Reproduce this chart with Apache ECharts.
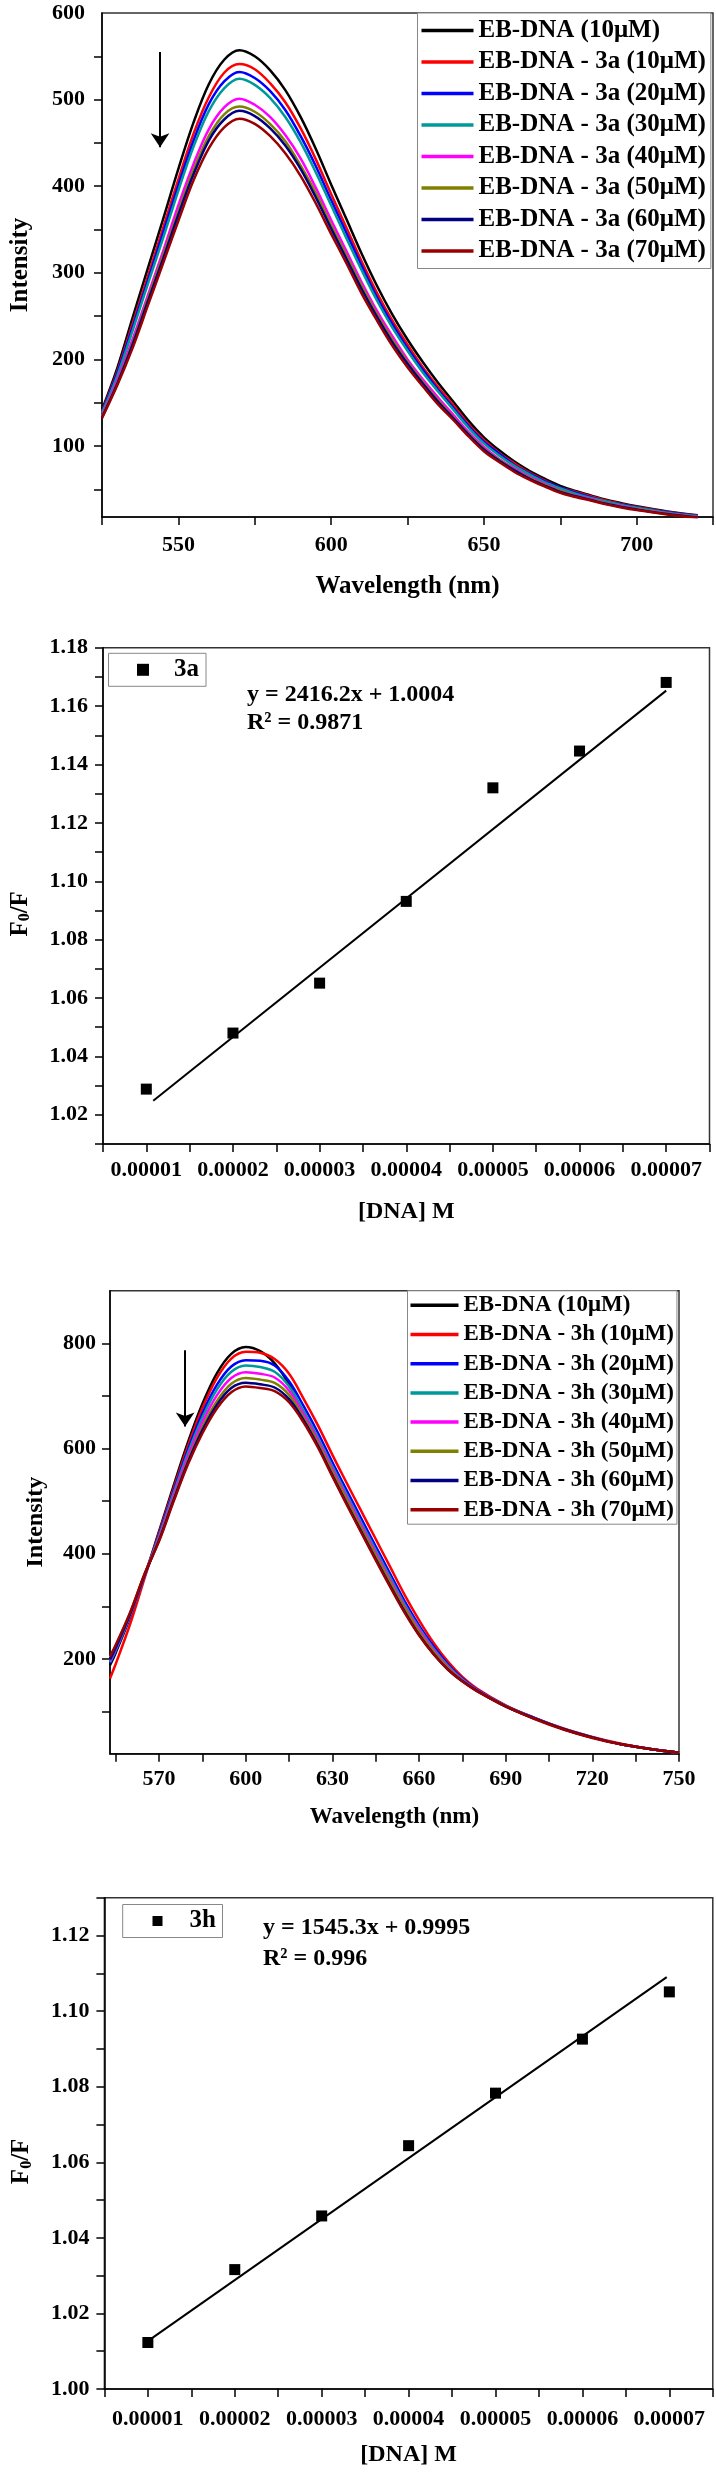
<!DOCTYPE html>
<html><head><meta charset="utf-8">
<script src="https://cdn.jsdelivr.net/npm/echarts@6.0.0/dist/echarts.min.js"></script>
<style>
html,body{margin:0;padding:0;background:#fff;}
.c{position:absolute;left:0;width:716px;}
</style></head>
<body>
<div id="c1" class="c" style="top:0;height:620px"></div>
<div id="c2" class="c" style="top:620px;height:620px"></div>
<div id="c3" class="c" style="top:1240px;height:620px"></div>
<div id="c4" class="c" style="top:1860px;height:612px"></div>
<script>
// ---------- Chart 1: EB-DNA + 3a emission spectra ----------
const wl3a = [525,530,535,540,545,550,555,560,565,570,575,580,585,590,595,600,605,610,615,620,625,630,635,640,645,650,655,660,665,670,675,680,685,690,695,700,710,720];
const names3a = ['EB-DNA (10μM)','EB-DNA - 3a (10μM)','EB-DNA - 3a (20μM)','EB-DNA - 3a (30μM)','EB-DNA - 3a (40μM)','EB-DNA - 3a (50μM)','EB-DNA - 3a (60μM)','EB-DNA - 3a (70μM)'];
const ebDna3a = [142,190,248,305,362,420,474,518,546,557,550,534,511,480,443,402,362,322,285,252,223,197,173,151,129,110,95,82,71,62,54,48,43,38,34,30.5,24.5,20];
const a3a10 = [140,186,241,296,352,408,461,503,531,541,535,519,497,467,431,391,352,313,277,245,217,191,168,147,125,107,92,80,69,60,52,47,42,37,33,29.5,23.8,19.4];
const a3a20 = [139,184,237,291,346,401,453,495,521,532,525,510,488,458,423,384,346,308,272,241,213,188,165,144,123,105,91,78,68,59,52,46,41,36,32.5,29,23.4,19.1];
const a3a30 = [138,181,233,287,340,395,446,487,513,524,517,502,480,451,416,378,340,303,268,237,210,185,163,142,121,103,89,77,67,58,51,45,40,36,32,28.7,23,18.8];
const a3a40 = [135,176,223,274,325,378,426,466,491,501,494,480,459,432,398,361,325,289,256,227,200,177,156,136,116,99,85,74,64,56,48.5,43,38.7,34,30.6,27.4,22,18];
const a3a50 = [134,173,219,270,320,371,419,458,483,492,486,472,452,424,392,355,320,285,252,223,197,174,153,133,114,97,84,72.5,63,55,48,42.4,38,33.6,30,27,21.7,17.7];
const a3a60 = [133,172,217,267,316,367,414,453,477,487,481,467,447,420,387,351,316,281,249,220,195,172,151,132,113,96,83,72,62,54,47,42,37.6,33.2,29.7,26.7,21.4,17.5];
const a3a70 = [132,170,213,262,311,360,407,444,468,478,472,458,438,412,380,345,311,276,245,216,191,169,148,130,111,94,81.5,70,61,53,46,41,37,32.6,29,26,21,17];
const y1Ticks = [50,100,150,200,250,300,350,400,450,500,550];
const y1Labels = [100,200,300,400,500,600];
const arrow1 = [544, 555, 445]; // x, from, to

// ---------- Chart 2: 3a F0/F ----------
const conc = [0.00001,0.00002,0.00003,0.00004,0.00005,0.00006,0.00007];
const f3a = [1.0288,1.048,1.0651,1.0931,1.132,1.1446,1.1681];
const fit3aX = [0.0000108, 0.00007];
const fit3aY = [1.0248, 1.1653];
const eq3a = ['y = 2416.2x + 1.0004', 'R² = 0.9871'];

// ---------- Chart 3: EB-DNA + 3h emission spectra ----------
const wl3h = [553,555,560,565,570,575,580,585,590,595,600,605,610,615,620,625,630,635,640,645,650,655,660,665,670,675,680,690,700,710,720,730,740,750];
const names3h = ['EB-DNA (10μM)','EB-DNA - 3h (10μM)','EB-DNA - 3h (20μM)','EB-DNA - 3h (30μM)','EB-DNA - 3h (40μM)','EB-DNA - 3h (50μM)','EB-DNA - 3h (60μM)','EB-DNA - 3h (70μM)'];
const ebDna3h = [188,212,280,358,443,529,612,685,743,780,793,785,762,722,664,608,551,497,444,392,341,292,248,211,181,158,140,110,87,67,51,38,29,22];
const h3h10 = [163,191,267,354,440,524,605,677,734,771,784,782,770,742,695,644,588,534,481,428,375,322,274,231,195,166,144,112,88,68,52,39,29,22];
const h3h20 = [192,215,282,359,437,519,598,667,721,756,768,767,758,728,681,630,574,520,467,414,362,310,264,224,190,163,142,111,88,67,51,38,29,22];
const h3h30 = [194,217,283,359,434,515,592,659,712,746,758,755,746,718,672,621,566,512,459,407,355,304,259,220,187,161,141,111,87,67,51,38,29,22];
const h3h40 = [197,220,285,360,431,510,585,650,701,734,745,742,735,710,666,616,561,507,454,402,350,300,256,217,185,160,141,110,87,67,51,38,29,22];
const h3h50 = [203,225,288,362,428,505,578,641,690,723,734,731,725,702,659,611,556,502,449,397,346,297,252,214,183,159,140,110,87,67,51,38,29,22];
const h3h60 = [199,222,286,360,426,502,574,635,683,715,725,722,716,694,654,605,549,495,442,390,339,290,246,210,180,158,140,110,87,67,51,38,29,22];
const h3h70 = [205,227,289,362,424,499,570,629,676,707,718,715,709,688,650,602,547,493,440,388,337,288,245,209,180,157,139,110,86,66,50,38,29,22];
const x3Ticks = [555,570,585,600,615,630,645,660,675,690,705,720,735,750];
const x3Labels = [570,600,630,660,690,720,750];
const y3Ticks = [100,200,300,400,500,600,700,800];
const y3Labels = [200,400,600,800];
const arrow3 = [579, 787, 642];

// ---------- Chart 4: 3h F0/F ----------
const f3h = [1.0123,1.0316,1.0458,1.0644,1.0783,1.0926,1.1051];
const fit3hX = [0.0000097, 0.0000697];
const fit3hY = [1.0122, 1.109];
const eq3h = ['y = 1545.3x + 0.9995', 'R² = 0.996'];

const colors = ['#000000','#ff0000','#0000ff','#009999','#ff00ff','#808000','#000080','#990000'];
const FONT = '"Liberation Serif", "Times New Roman", serif';
function T(size){ return {fontFamily: FONT, fontWeight: 'bold', fontSize: size, color: '#000'}; }
const axLine = {show: true, lineStyle: {color: '#000', width: 1.5}};
const tickStyle = {color: '#000', width: 1.5};

function spectrum(el, cfg) {
  const ch = echarts.init(document.getElementById(el));
  const series = cfg.names.map((n, i) => ({
    name: n, type: 'line', smooth: 0.35, symbol: 'none', showSymbol: false,
    data: cfg.x.map((x, j) => [x, cfg.vals[i][j]]),
    lineStyle: {color: colors[i], width: 2.5}, itemStyle: {color: colors[i]},
    z: 2
  }));
  series[0].markLine = {
    silent: true, symbol: ['none', 'arrow'], symbolSize: 14,
    lineStyle: {color: '#000', width: 2, type: 'solid'}, itemStyle: {color: '#000'}, label: {show: false},
    data: [[{coord: [cfg.arrow[0], cfg.arrow[1]]}, {coord: [cfg.arrow[0], cfg.arrow[2]]}]]
  };
  ch.setOption({
    animation: false, backgroundColor: '#fff',
    grid: Object.assign({show: true, borderColor: '#333', borderWidth: 1.5}, cfg.grid),
    legend: Object.assign({
      orient: 'vertical', icon: 'rect', selectedMode: false,
      borderColor: '#888', borderWidth: 1, backgroundColor: '#fff',
      data: cfg.names
    }, cfg.legend),
    xAxis: cfg.xAxis, yAxis: cfg.yAxis, series: series
  });
}

spectrum('c1', {
  x: wl3a, names: names3a, vals: [ebDna3a, a3a10, a3a20, a3a30, a3a40, a3a50, a3a60, a3a70], arrow: arrow1,
  grid: {left: 93, top: 13, width: 622, height: 504},
  legend: {left: 417.5, top: 13, padding: [5, 5, 5, 4], itemGap: 6.5, itemWidth: 52, itemHeight: 3.5,
           textStyle: Object.assign(T(25), {lineHeight: 25})},
  xAxis: {type: 'value', min: 525, max: 725, interval: 25, name: 'Wavelength (nm)', nameLocation: 'middle', nameGap: 57,
          nameTextStyle: T(25), axisLine: axLine, axisTick: {length: 8, lineStyle: tickStyle},
          axisLabel: Object.assign(T(22), {margin: 17, formatter: v => (v % 50 === 0 ? String(v) : '')}),
          splitLine: {show: false}},
  yAxis: {type: 'value', min: 18, max: 600, name: 'Intensity', nameLocation: 'middle', nameGap: 69,
          nameTextStyle: T(25), axisLine: axLine,
          axisTick: {customValues: y1Ticks, length: 8, lineStyle: tickStyle},
          axisLabel: Object.assign(T(22), {margin: 17, customValues: y1Labels}),
          splitLine: {show: false}}
});

spectrum('c3', {
  x: wl3h, names: names3h, vals: [ebDna3h, h3h10, h3h20, h3h30, h3h40, h3h50, h3h60, h3h70], arrow: arrow3,
  grid: {left: 110, top: 50.7, width: 569, height: 463},
  legend: {left: 407.5, top: 50.8, padding: [3, 3, 3, 3], itemGap: 6.2, itemWidth: 48, itemHeight: 3.5,
           textStyle: Object.assign(T(23), {lineHeight: 23})},
  xAxis: {type: 'value', min: 553, max: 750, name: 'Wavelength (nm)', nameLocation: 'middle', nameGap: 52,
          nameTextStyle: T(23), axisLine: axLine,
          axisTick: {customValues: x3Ticks, length: 8, lineStyle: tickStyle},
          axisLabel: Object.assign(T(22), {margin: 15, customValues: x3Labels}),
          splitLine: {show: false}},
  yAxis: {type: 'value', min: 20, max: 900, name: 'Intensity', nameLocation: 'middle', nameGap: 62,
          nameTextStyle: T(24), axisLine: axLine,
          axisTick: {customValues: y3Ticks, length: 8, lineStyle: tickStyle},
          axisLabel: Object.assign(T(22), {margin: 14, customValues: y3Labels}),
          splitLine: {show: false}}
});

function sternVolmer(el, cfg) {
  const ch = echarts.init(document.getElementById(el));
  const fText = (v) => { const k = Math.round(v * 100); return k % 2 === 0 ? (k / 100).toFixed(2) : ''; };
  const xText = (v) => { const k = Math.round(v * 2e5); return (k % 2 === 0 && k >= 2 && k <= 14) ? (k / 2 * 1e-5).toFixed(5) : ''; };
  ch.setOption({
    animation: false, backgroundColor: '#fff',
    grid: Object.assign({show: true, borderColor: '#333', borderWidth: 1.5}, cfg.grid),
    legend: Object.assign({
      orient: 'vertical', icon: 'rect', selectedMode: false,
      borderColor: '#888', borderWidth: 1, backgroundColor: '#fff',
      data: [cfg.name]
    }, cfg.legend),
    xAxis: {type: 'value', min: 0.000005, max: 0.000075, interval: 0.000005, name: '[DNA] M',
            nameLocation: 'middle', nameGap: cfg.xNameGap, nameTextStyle: T(24), axisLine: axLine,
            axisTick: {length: 8, lineStyle: tickStyle},
            axisLabel: Object.assign(T(22), {margin: cfg.xMargin, formatter: xText, showMinLabel: true, showMaxLabel: true, hideOverlap: false}),
            splitLine: {show: false}},
    yAxis: {type: 'value', min: cfg.yMin, max: cfg.yMax, interval: 0.01,
            name: '{a|F}{b|0}{a|/F}', nameLocation: 'middle', nameGap: cfg.yNameGap,
            nameTextStyle: {padding: [0, 36, 0, 0], rich: {a: Object.assign(T(25), {verticalAlign: 'bottom', lineHeight: 28}), b: Object.assign(T(16), {verticalAlign: 'bottom', lineHeight: 24})}},
            axisLine: axLine, axisTick: {length: 8, lineStyle: tickStyle},
            axisLabel: Object.assign(T(22), {margin: 15, formatter: fText}),
            splitLine: {show: false}},
    graphic: [
      {type: 'text', left: cfg.eqLeft, top: cfg.eqTop[0], style: {text: cfg.eq[0], font: 'bold 24px "Liberation Serif"', fill: '#000'}},
      {type: 'text', left: cfg.eqLeft, top: cfg.eqTop[1], style: {text: cfg.eq[1], font: 'bold 24px "Liberation Serif"', fill: '#000'}}
    ],
    series: [
      {name: cfg.name, type: 'scatter', symbol: 'rect', symbolSize: 11, itemStyle: {color: '#000', opacity: 1},
       data: conc.map((c, i) => [c, cfg.f[i]]), z: 3},
      {name: 'fit', type: 'line', symbol: 'none', lineStyle: {color: '#000', width: 2},
       data: cfg.fitX.map((x, i) => [x, cfg.fitY[i]]), z: 2}
    ]
  });
}

sternVolmer('c2', {
  name: '3a', f: f3a, fitX: fit3aX, fitY: fit3aY, eq: eq3a, yMin: 1.01, yMax: 1.18,
  grid: {left: 97.5, top: 27.7, width: 612, height: 496.3},
  legend: {left: 108.5, top: 33.3, padding: [4, 7, 4, 28.5], itemWidth: 12, itemHeight: 12,
           textStyle: Object.assign(T(25), {padding: [0, 0, 0, 20]})},
  xNameGap: 56, xMargin: 15, yNameGap: 70,
  eqLeft: 247, eqTop: [63, 91]
});

sternVolmer('c4', {
  name: '3h', f: f3h, fitX: fit3hX, fitY: fit3hY, eq: eq3h, yMin: 1.00, yMax: 1.13,
  grid: {left: 104.4, top: 37.8, width: 608.4, height: 494.5},
  legend: {left: 122.7, top: 44.5, padding: [4, 6.6, 4, 29.8], itemWidth: 10, itemHeight: 10,
           textStyle: Object.assign(T(25), {padding: [0, 0, 0, 22]})},
  xNameGap: 54, xMargin: 19, yNameGap: 70,
  eqLeft: 263, eqTop: [55.6, 86.3]
});
</script>
</body></html>
